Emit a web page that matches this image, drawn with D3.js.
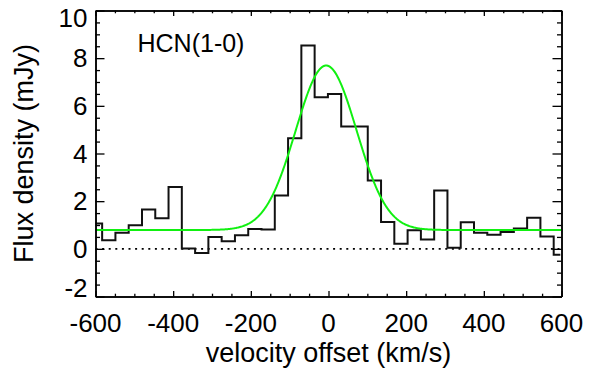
<!DOCTYPE html>
<html>
<head>
<meta charset="utf-8">
<script src="https://cdn.jsdelivr.net/npm/d3@7"></script>
<style>
  html, body { margin: 0; padding: 0; background: #fff; }
  svg { display: block; font-family: "Liberation Sans", Arial, Helvetica, sans-serif; }
</style>
</head>
<body>
<svg id="chart" width="597" height="371"></svg>
<script>
// Channel velocities (km/s) of the HCN(1-0) spectrum
const velocity = [
  -600.0, -565.8, -531.6, -497.4, -463.2, -429.0, -394.8, -360.6, -326.4,
  -292.2, -258.0, -223.8, -189.6, -155.4, -121.2, -87.0, -52.8, -18.6,
  15.6, 49.8, 84.0, 118.2, 152.4, 186.6, 220.8, 255.0, 289.2, 323.4,
  357.6, 391.8, 426.0, 460.2, 494.4, 528.6, 562.8, 597.0
];
// Flux density per channel (mJy)
const flux = [
  1.06, 0.36, 0.67, 0.99, 1.65, 1.28, 2.59, 0.01, -0.17,
  0.50, 0.32, 0.57, 0.83, 0.81, 2.24, 4.64, 8.53, 6.36,
  6.50, 5.13, 5.13, 2.87, 1.13, 0.21, 0.78, 0.39, 2.45, 0.05,
  1.12, 0.67, 0.59, 0.71, 0.85, 1.30, 0.52, -0.25
];
// Gaussian fit on a constant continuum
const fitParams = { continuum: 0.79, amplitude: 6.90, centre: -6.0, sigma: 78.3 };

const xTicksMajor = [-600, -400, -200, 0, 200, 400, 600];
const yTicksMajor = [-2, 0, 2, 4, 6, 8, 10];
const xDomain = [-600, 600];
const yDomain = [-2, 10];

const svg = d3.select("#chart");
const plot = { left: 95.5, right: 561.5, top: 10.5, bottom: 296.5 };

const x = d3.scaleLinear().domain(xDomain).range([plot.left, plot.right]);
const y = d3.scaleLinear().domain(yDomain).range([plot.bottom, plot.top]);

svg.append("defs").append("clipPath").attr("id", "plotclip")
  .append("rect")
  .attr("x", plot.left).attr("y", plot.top)
  .attr("width", plot.right - plot.left).attr("height", plot.bottom - plot.top);

const g = svg.append("g").attr("clip-path", "url(#plotclip)");

// zero level
g.append("line")
  .attr("x1", x(xDomain[0])).attr("x2", x(xDomain[1]))
  .attr("y1", y(0)).attr("y2", y(0))
  .attr("stroke", "#000").attr("stroke-width", 1.8)
  .attr("stroke-dasharray", "2,4.6");

// channel histogram
const spectrum = velocity.map((v, i) => [v, flux[i]]);
g.append("path")
  .datum(spectrum)
  .attr("d", d3.line().x(d => x(d[0])).y(d => y(d[1])).curve(d3.curveStep))
  .attr("fill", "none").attr("stroke", "#111").attr("stroke-width", 2);

// Gaussian fit curve
const fitV = d3.range(xDomain[0], xDomain[1] + 1, 2);
const gauss = v => fitParams.continuum +
  fitParams.amplitude * Math.exp(-Math.pow(v - fitParams.centre, 2) / (2 * fitParams.sigma * fitParams.sigma));
g.append("path")
  .datum(fitV.map(v => [v, gauss(v)]))
  .attr("d", d3.line().x(d => x(d[0])).y(d => y(d[1])))
  .attr("fill", "none").attr("stroke", "#11f011").attr("stroke-width", 2);

// axes: ticks point inwards on all four sides
const axisW = 1.5;
const xMinor = d3.range(-600, 601, 50).filter(v => !xTicksMajor.includes(v));
const yMinor = d3.range(-2, 10.01, 0.5).filter(v => !yTicksMajor.includes(v));

const bottomAxis = d3.axisBottom(x).tickValues(xTicksMajor).tickSizeInner(-5.5).tickSizeOuter(0).tickFormat("");
const topAxis = d3.axisTop(x).tickValues(xTicksMajor).tickSizeInner(-5.5).tickSizeOuter(0).tickFormat("");
const bottomMinor = d3.axisBottom(x).tickValues(xMinor).tickSizeInner(-2.8).tickSizeOuter(0).tickFormat("");
const topMinor = d3.axisTop(x).tickValues(xMinor).tickSizeInner(-2.8).tickSizeOuter(0).tickFormat("");
const leftAxis = d3.axisLeft(y).tickValues(yTicksMajor).tickSizeInner(-9).tickSizeOuter(0).tickFormat("");
const rightAxis = d3.axisRight(y).tickValues(yTicksMajor).tickSizeInner(-9).tickSizeOuter(0).tickFormat("");
const leftMinor = d3.axisLeft(y).tickValues(yMinor).tickSizeInner(-4.5).tickSizeOuter(0).tickFormat("");
const rightMinor = d3.axisRight(y).tickValues(yMinor).tickSizeInner(-4.5).tickSizeOuter(0).tickFormat("");

const axes = svg.append("g");
[[bottomAxis, `translate(0,${plot.bottom})`], [bottomMinor, `translate(0,${plot.bottom})`],
 [topAxis, `translate(0,${plot.top})`], [topMinor, `translate(0,${plot.top})`],
 [leftAxis, `translate(${plot.left},0)`], [leftMinor, `translate(${plot.left},0)`],
 [rightAxis, `translate(${plot.right},0)`], [rightMinor, `translate(${plot.right},0)`]]
  .forEach(([ax, tr]) => {
    const a = axes.append("g").attr("transform", tr).call(ax);
    a.selectAll("line").attr("stroke", "#000").attr("stroke-width", 1.3);
    a.select(".domain").attr("stroke", "#000").attr("stroke-width", axisW);
  });

// tick labels
svg.append("g").selectAll("text").data(xTicksMajor).join("text")
  .attr("x", d => x(d)).attr("y", 332.3)
  .attr("text-anchor", "middle").attr("font-size", 26).attr("fill", "#000")
  .text(d => d);

// end labels on the y axis sit inside the frame
const yLabelPos = d => d === yDomain[1] ? y(d) + 7 : d === yDomain[0] ? y(d) - 8.5 : y(d);
svg.append("g").selectAll("text").data(yTicksMajor).join("text")
  .attr("x", 87.5).attr("y", d => yLabelPos(d) + 9.3)
  .attr("text-anchor", "end").attr("font-size", 26).attr("fill", "#000")
  .text(d => d);

// axis titles
svg.append("text")
  .attr("x", (plot.left + plot.right) / 2).attr("y", 362)
  .attr("text-anchor", "middle").attr("font-size", 27).attr("fill", "#000")
  .text("velocity offset (km/s)");
svg.append("text")
  .attr("transform", `translate(33,${(plot.top + plot.bottom) / 2}) rotate(-90)`)
  .attr("text-anchor", "middle").attr("font-size", 27).attr("fill", "#000")
  .text("Flux density (mJy)");

// line label
svg.append("text")
  .attr("x", 137.5).attr("y", 52)
  .attr("font-size", 25).attr("fill", "#000")
  .text("HCN(1-0)");
</script>
</body>
</html>
